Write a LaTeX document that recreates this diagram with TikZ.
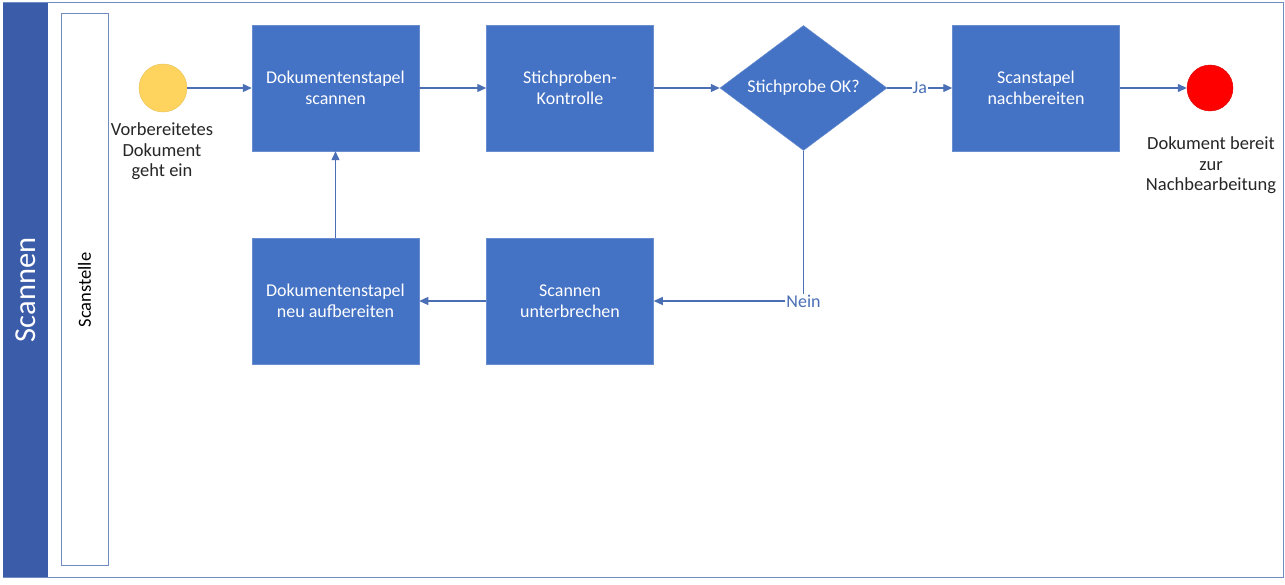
\documentclass[tikz,border=0pt]{standalone}
\usepackage{fontspec}
\setmainfont{Carlito}
\usetikzlibrary{arrows.meta,shapes.geometric}
\definecolor{boxblue}{HTML}{4472C4}
\definecolor{bandblue}{HTML}{3B5CA8}
\definecolor{lineblue}{HTML}{4A6FB5}
\definecolor{frameblue}{HTML}{6F8BBF}
\definecolor{startgold}{HTML}{FFD45E}
\tikzset{
  stepbox/.style={rectangle, draw=boxblue!80!white, line width=0.5pt, fill=boxblue, text=white, minimum width=167pt, minimum height=126pt, align=center, font=\fontsize{18}{21}\selectfont, inner sep=0pt},
  decbox/.style={diamond, draw=boxblue!80!white, line width=0.5pt, fill=boxblue, text=white, minimum width=167pt, minimum height=125pt, font=\fontsize{18}{21}\selectfont, inner sep=0pt, aspect=1.336},
  conn/.style={draw=lineblue, line width=1.3pt, -{Triangle[length=9pt,width=8pt]}},
  evlabel/.style={align=center, font=\fontsize{18.5}{20.8}\selectfont, text=black!85},
  flowlabel/.style={fill=white, inner sep=1pt, text=lineblue, font=\fontsize{18}{21}\selectfont}
}
\begin{document}
\begin{tikzpicture}[x=1pt,y=-1pt]
\useasboundingbox (0,0) rectangle (1285,585);
\fill[white] (0,0) rectangle (1285,585);
% outer frame and band
\draw[frameblue, line width=1pt] (3,3) rectangle (1283,577);
\fill[bandblue] (3,3) rectangle (48,577);
\node[rotate=90, text=white, font=\fontsize{30.5}{36}\selectfont] (pool) at (25.5,290) {Scannen};
\draw[frameblue, line width=1pt] (61,14) rectangle (108,565);
\node[rotate=90, text=black, font=\fontsize{18.5}{22}\selectfont] (lane) at (84.5,290) {Scanstelle};
% events
\node[circle, fill=startgold, draw=startgold!90!black, line width=0.4pt, minimum size=48pt, inner sep=0pt] (start) at (163,88) {};
\node[evlabel, anchor=north] (startlbl) at (162,119) {Vorbereitetes\\Dokument\\geht ein};
\node[circle, fill=red, draw=red!85!black, line width=0.4pt, minimum size=46pt, inner sep=0pt] (end) at (1210,88) {};
\node[evlabel, anchor=north] (endlbl) at (1211,133) {Dokument bereit\\zur\\Nachbearbeitung};
% tasks
\node[stepbox] (scan) at (335.5,88) {Dokumentenstapel\\scannen};
\node[stepbox] (check) at (570,88) {Stichproben-\\Kontrolle};
\node[decbox] (ok) at (803.5,88) {Stichprobe OK?};
\node[stepbox] (post) at (1036,88) {Scanstapel\\nachbereiten};
\node[stepbox] (prep) at (335.5,301) {Dokumentenstapel\\neu aufbereiten};
\node[stepbox] (stop) at (570,301) {Scannen\\unterbrechen};
% connectors
\draw[conn] (start) -- (scan);
\draw[conn] (scan) -- (check);
\draw[conn] (check) -- (ok);
\draw[conn] (ok) -- node[flowlabel] (ja) {Ja} (post);
\draw[conn] (post) -- (end);
\coordinate (corner) at (ok.south |- stop.east);
\draw[conn] (ok.south) -- (corner) -- (stop.east);
\node[flowlabel] (nein) at (corner) {Nein};
\draw[conn] (stop) -- (prep);
\draw[conn] (prep) -- (scan);
\end{tikzpicture}
\end{document}
